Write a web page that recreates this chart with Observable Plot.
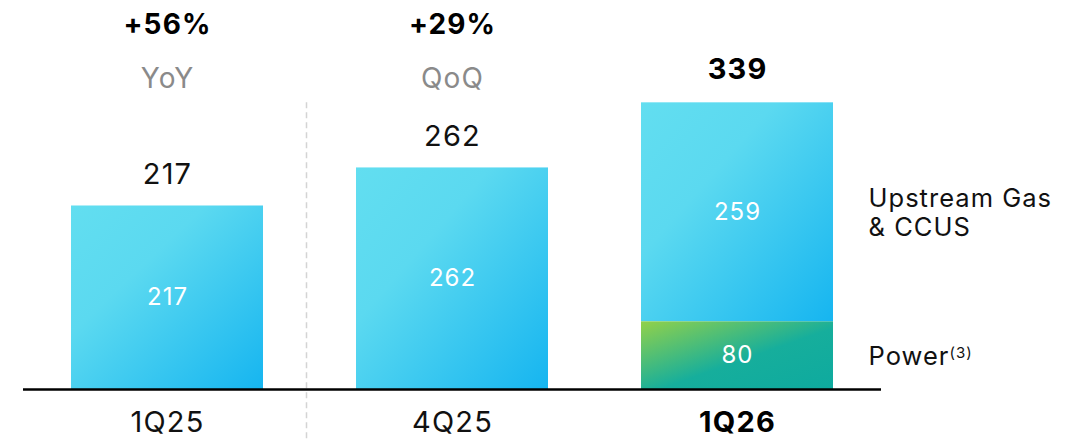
<!DOCTYPE html>
<html><head><meta charset="utf-8">
<script src="https://cdn.jsdelivr.net/npm/d3@7"></script>
<script src="https://cdn.jsdelivr.net/npm/@observablehq/plot@0.6"></script>
<style>
body{margin:0;background:#fff}
#chart svg{font-family:Inter, "Open Sans", sans-serif; overflow:visible}
#chart svg text{letter-spacing:0.04em}
</style>
</head><body><div id="chart"></div>
<script>
// ---- data ----
const periods = ["1Q25", "4Q25", "1Q26"];
const upstream = [217, 262, 259];
const power = [0, 0, 80];
const totals = [217, 262, 339];
const changePeriods = ["1Q25", "4Q25"];
const changeValues = ["+56%", "+29%"];
const changeKinds = ["YoY", "QoQ"];
const boldPeriod = "1Q26";
const legendLabels = ["Upstream Gas\n& CCUS", "Power"];
const powerFootnote = "(3)";
const separatorBefore = ["4Q25"];

// ---- derived rows ----
const segments = [];
periods.forEach((p, i) => {
  if (power[i] > 0) segments.push({period: p, series: "Power", y1: 0, y2: power[i], value: power[i]});
  segments.push({period: p, series: "Upstream", y1: power[i], y2: power[i] + upstream[i], value: upstream[i]});
});
const totalRows = periods.map((p, i) => ({period: p, total: totals[i]}));
const changeRows = changePeriods.map((p, i) => ({period: p, value: changeValues[i], kind: changeKinds[i]}));
const lastIdx = periods.length - 1;
const legendRows = [
  {period: periods[lastIdx], label: legendLabels[0], y: power[lastIdx] + upstream[lastIdx] / 2},
  {period: periods[lastIdx], label: legendLabels[1], y: power[lastIdx] / 2}
];

const plot = Plot.plot({
  width: 1079,
  height: 439,
  marginLeft: 23,
  marginRight: 198,
  marginTop: 0,
  marginBottom: 50,
  x: {domain: periods, paddingInner: 0.326, paddingOuter: 0.168, axis: null},
  y: {domain: [0, 460], axis: null},
  marks: [
    Plot.ruleX(separatorBefore, {x: d => d, dx: -146, y1: d3.max(totals), y2: 0, insetBottom: -50,
      stroke: "#d4d4d4", strokeWidth: 1.5, strokeDasharray: "6,4"}),
    Plot.barY(segments.filter(d => d.series === "Upstream"), {x: "period", y1: "y1", y2: "y2", fill: "url(#gradCyan)"}),
    Plot.barY(segments.filter(d => d.series === "Power"), {x: "period", y1: "y1", y2: "y2", fill: "url(#gradGreen)"}),
    Plot.ruleY([0], {stroke: "#000", strokeWidth: 2.5}),
    // values inside bars
    Plot.text(segments, {x: "period", y: d => (d.y1 + d.y2) / 2, text: d => String(d.value),
      fill: "#fff", fontSize: 24, fontWeight: 400}),
    // totals above bars
    Plot.text(totalRows.filter(d => d.period !== boldPeriod), {x: "period", y: "total", text: d => String(d.total),
      dy: -31, fill: "#111", fontSize: 29, fontWeight: 400}),
    Plot.text(totalRows.filter(d => d.period === boldPeriod), {x: "period", y: "total", text: d => String(d.total),
      dy: -33, fill: "#000", fontSize: 29, fontWeight: 700}),
    // change headers
    Plot.text(changeRows, {x: "period", frameAnchor: "top", lineAnchor: "middle", dy: 25, text: "value",
      fill: "#000", fontSize: 28, fontWeight: 700}),
    Plot.text(changeRows, {x: "period", frameAnchor: "top", lineAnchor: "middle", dy: 79, text: "kind",
      fill: "#8a8a8a", fontSize: 28, fontWeight: 400}),
    // x labels
    Plot.text(periods.filter(p => p !== boldPeriod), {x: d => d, y: 0, dy: 33, lineAnchor: "middle", text: d => d,
      fill: "#111", fontSize: 29, fontWeight: 400}),
    Plot.text([boldPeriod], {x: d => d, y: 0, dy: 33, lineAnchor: "middle", text: d => d,
      fill: "#000", fontSize: 29, fontWeight: 700}),
    // legend labels
    Plot.text(legendRows, {x: "period", y: "y", text: "label", dx: 131, textAnchor: "start",
      lineAnchor: "middle", lineHeight: 1.15, fill: "#111", fontSize: 25.5, fontWeight: 400})
  ]
});

// gradients
const svg = d3.select(plot);
const defs = svg.insert("defs", ":first-child");
const g1 = defs.append("linearGradient").attr("id", "gradCyan").attr("x1", 0).attr("y1", 0).attr("x2", 1).attr("y2", 1);
g1.append("stop").attr("offset", "0%").attr("stop-color", "#62def0");
g1.append("stop").attr("offset", "35%").attr("stop-color", "#5bd9f0");
g1.append("stop").attr("offset", "100%").attr("stop-color", "#16b5f0");
const g2 = defs.append("linearGradient").attr("id", "gradGreen").attr("x1", 0).attr("y1", 0).attr("x2", 1).attr("y2", 1);
g2.append("stop").attr("offset", "0%").attr("stop-color", "#92d14a");
g2.append("stop").attr("offset", "55%").attr("stop-color", "#16ae9c");
g2.append("stop").attr("offset", "100%").attr("stop-color", "#0eaa9f");

// footnote superscript on Power
svg.selectAll("text").filter(function () { return this.textContent === legendLabels[1]; })
  .append("tspan").attr("dy", "-0.5em").attr("font-size", 15).text(powerFootnote);

document.getElementById("chart").appendChild(plot);
</script>
</body></html>
